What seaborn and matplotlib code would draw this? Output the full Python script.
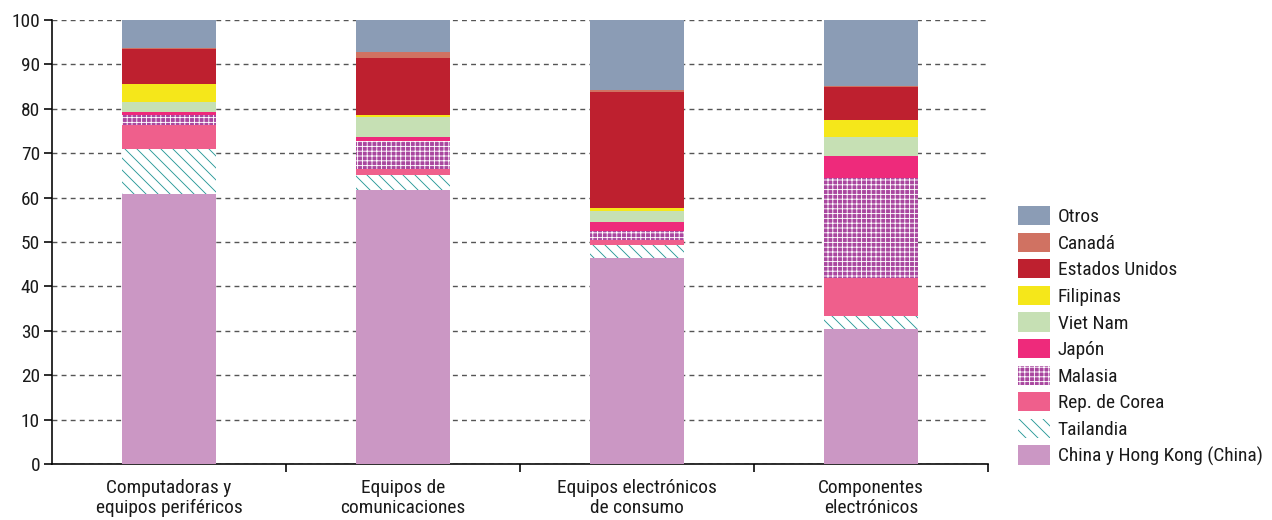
import matplotlib
matplotlib.use("Agg")
import matplotlib.pyplot as plt
from matplotlib.patches import Patch
import seaborn as sns
import numpy as np

categories = ["Computadoras y\nequipos periféricos", "Equipos de\ncomunicaciones",
              "Equipos electrónicos\nde consumo", "Componentes\nelectrónicos"]
series_names = ["China y Hong Kong (China)", "Tailandia", "Rep. de Corea", "Malasia", "Japón",
                "Viet Nam", "Filipinas", "Estados Unidos", "Canadá", "Otros"]
china = [60.7, 61.6, 46.5, 30.5]
tailandia = [10.3, 3.5, 2.8, 2.8]
corea = [5.3, 1.3, 1.2, 8.5]
malasia = [2.2, 6.4, 2.0, 22.7]
japon = [0.7, 0.9, 2.1, 4.9]
vietnam = [2.3, 4.4, 2.4, 4.2]
filipinas = [4.1, 0.5, 0.6, 3.8]
eeuu = [7.8, 12.9, 26.2, 7.4]
canada = [0.4, 1.4, 0.4, 0.3]
otros = [6.2, 7.1, 15.8, 14.9]
y_ticks = [0, 10, 20, 30, 40, 50, 60, 70, 80, 90, 100]

series_values = [china, tailandia, corea, malasia, japon, vietnam, filipinas, eeuu, canada, otros]
styles = [
    dict(color="#cb97c4", edgecolor="#cb97c4", hatch=None),
    dict(color="white", edgecolor="#2a9a98", hatch="\\\\\\\\"),
    dict(color="#ef5f8c", edgecolor="#ef5f8c", hatch=None),
    dict(color="#a9479f", edgecolor="#ffffff", hatch="+++++"),
    dict(color="#ee2a7b", edgecolor="#ee2a7b", hatch=None),
    dict(color="#c6e0b4", edgecolor="#c6e0b4", hatch=None),
    dict(color="#f5e71a", edgecolor="#f5e71a", hatch=None),
    dict(color="#be202f", edgecolor="#be202f", hatch=None),
    dict(color="#d07262", edgecolor="#d07262", hatch=None),
    dict(color="#8b9cb5", edgecolor="#8b9cb5", hatch=None),
]

sns.set_theme(style="white")
plt.rcParams["font.family"] = ["Roboto Condensed", "Archivo Narrow", "DejaVu Sans"]
plt.rcParams["hatch.linewidth"] = 0.45

DPI = 144
fig = plt.figure(figsize=(1272 / DPI, 520 / DPI), dpi=DPI)
ax = fig.add_axes([52 / 1272, 56 / 520, 936 / 1272, 444 / 520])

bottom = np.zeros(len(categories))
for name, vals, st in zip(series_names, series_values, styles):
    sns.barplot(x=categories, y=vals, bottom=bottom, ax=ax, color=st["color"],
                saturation=1, width=0.4, edgecolor=st["edgecolor"],
                linewidth=0, hatch=st["hatch"], zorder=3)
    bottom = bottom + np.array(vals)

ax.set_xlim(-0.5, len(categories) - 0.5)
ax.set_ylim(0, 100)
ax.set_yticks(y_ticks)
ax.yaxis.grid(True, linestyle=(0, (3.5, 3)), color="#555555", linewidth=0.7, zorder=0)
ax.xaxis.grid(False)
for s in ["top", "right"]:
    ax.spines[s].set_visible(False)
for s in ["left", "bottom"]:
    ax.spines[s].set_color("black")
    ax.spines[s].set_linewidth(0.8)
ax.set_axisbelow(True)

FS = 9.7
ax.tick_params(axis="y", which="major", left=True, length=4, width=0.8, color="black",
               labelsize=FS, pad=2, labelcolor="#1a1a1a")
ax.tick_params(axis="x", which="major", bottom=False, labelsize=FS, pad=1.5, labelcolor="#1a1a1a")
for lab in ax.get_xticklabels():
    lab.set_linespacing(1.15)
ax.set_xticks(np.arange(len(categories)) + 0.5, minor=True)
ax.tick_params(axis="x", which="minor", bottom=True, length=4, width=0.8, color="black")
ax.set_xlabel("")
ax.set_ylabel("")

handles = []
for name, st in zip(series_names, styles):
    handles.append(Patch(facecolor=st["color"], edgecolor=st["edgecolor"], hatch=st["hatch"],
                         linewidth=0, label=name))
handles = handles[::-1]
fig.legend(handles=handles, labels=[h.get_label() for h in handles],
           loc="center left", bbox_to_anchor=(1001 / 1272, 0.354), frameon=False,
           fontsize=FS, handlelength=1.65, handleheight=1.15, labelspacing=0.33,
           handletextpad=0.38, labelcolor="#1a1a1a")

fig.savefig("out.png", dpi=DPI)
